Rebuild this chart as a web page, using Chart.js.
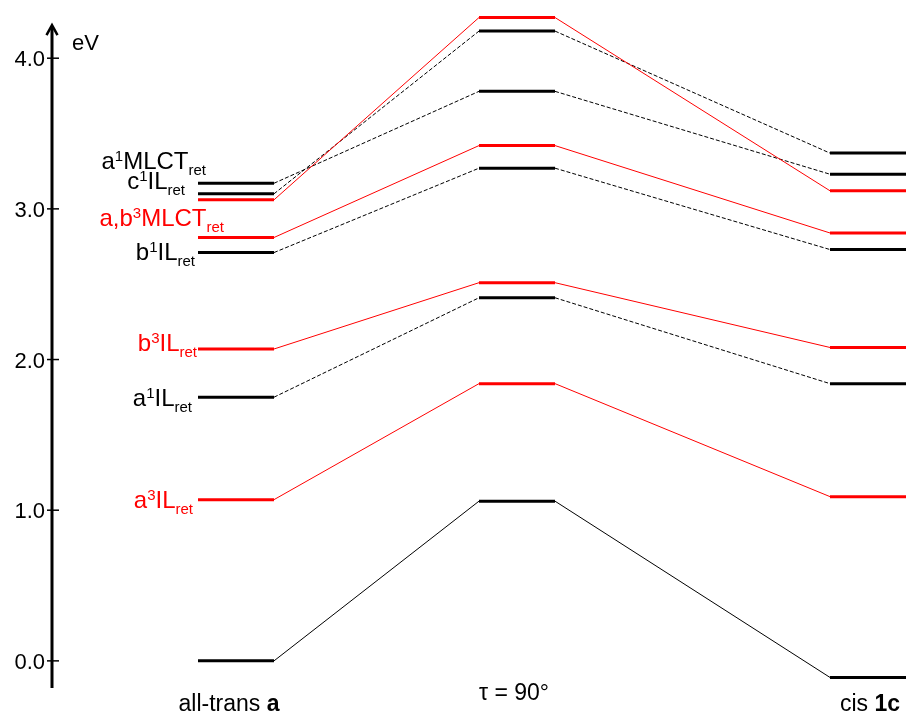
<!DOCTYPE html>
<html>
<head>
<meta charset="utf-8">
<script src="https://cdn.jsdelivr.net/npm/chart.js@4.4.0/dist/chart.umd.min.js"></script>
<style>
  html, body { margin: 0; padding: 0; background: #fff; }
</style>
</head>
<body>
<canvas id="diagram" width="908" height="715"></canvas>
<script>
// Energias dos estados (eV) nas três geometrias
const transEnergy  = [0.00, 1.07, 1.75, 2.07, 2.71, 2.81, 3.06, 3.10, 3.17];
const twistEnergy  = [1.06, 1.84, 2.41, 2.51, 3.27, 3.42, 4.27, 4.18, 3.78];
const cisEnergy    = [-0.11, 1.09, 1.84, 2.08, 2.73, 2.84, 3.12, 3.37, 3.23];
// 0 = fundamental, 1 = singleto, 3 = tripleto
const multiplicity = [0, 3, 1, 3, 1, 3, 3, 1, 1];
const stateLabels  = ['', 'a^{3}IL_{ret}', 'a^{1}IL_{ret}', 'b^{3}IL_{ret}', 'b^{1}IL_{ret}',
                      'a,b^{3}MLCT_{ret}', '', 'c^{1}IL_{ret}', 'a^{1}MLCT_{ret}'];
const energyTicks  = [0, 1, 2, 3, 4];

// Layout
const RED = '#ff0000';
const FONT = '"Liberation Sans", Arial, Helvetica, sans-serif';
const stageX = [236, 517, 868];
const levelHalf = 38;
// onde cada rótulo fica (energia do centro do texto, borda direita)
const labelPlace = [null, [1.07, 193], [1.75, 192], [2.11, 197], [2.72, 195],
                    [2.94, 224], null, [3.19, 185], [3.32, 206]];
const stageText = [
    { parts: [['all-trans ', false], ['a', true]], cx: 229, y: 711 },
    { parts: [['\u03c4 = 90\u00b0', false]], cx: 514, y: 700 },
    { parts: [['cis ', false], ['1c', true]], cx: 870, y: 711 }
];

function buildDatasets() {
    return transEnergy.map((e, i) => {
        const values = [e, twistEnergy[i], cisEnergy[i]];
        const pts = [];
        values.forEach((v, s) => {
            pts.push({ x: stageX[s] - levelHalf, y: v });
            pts.push({ x: stageX[s] + levelHalf, y: v });
        });
        const dashed = multiplicity[i] === 1;
        return {
            data: pts,
            showLine: true,
            borderColor: multiplicity[i] === 3 ? RED : '#000',
            borderWidth: 1,
            pointRadius: 0,
            pointHoverRadius: 0,
            segment: {
                // nível = traço grosso, ligação = traço fino
                borderWidth: c => c.p0DataIndex % 2 === 0 ? 3 : 1,
                borderDash: c => (dashed && c.p0DataIndex % 2 === 1) ? [4, 2] : undefined
            }
        };
    });
}

function drawRich(ctx, text, xRight, yMid, color) {
    const parts = [];
    const re = /([\^_])\{([^}]*)\}|([^\^_]+)/g;
    let m;
    while ((m = re.exec(text)) !== null) {
        if (m[3]) parts.push({ t: m[3], size: 24, dy: 0 });
        else parts.push({ t: m[2], size: 15, dy: m[1] === '^' ? -8 : 6 });
    }
    let total = 0;
    parts.forEach(p => {
        ctx.font = p.size + 'px ' + FONT;
        p.w = ctx.measureText(p.t).width;
        total += p.w;
    });
    let x = xRight - total;
    const base = yMid + 8.5;
    ctx.fillStyle = color;
    ctx.textAlign = 'left';
    ctx.textBaseline = 'alphabetic';
    parts.forEach(p => {
        ctx.font = p.size + 'px ' + FONT;
        ctx.fillText(p.t, x, base + p.dy);
        x += p.w;
    });
}

const diagramPlugin = {
    id: 'diagramExtras',
    afterDraw(chart) {
        const ctx = chart.ctx;
        const y = chart.scales.y;
        const axisX = 52;
        ctx.save();

        // eixo de energia com seta
        const yBottom = y.getPixelForValue(-0.18);
        const yTip = y.getPixelForValue(4.22);
        ctx.strokeStyle = '#000';
        ctx.lineWidth = 3;
        ctx.beginPath();
        ctx.moveTo(axisX, yBottom);
        ctx.lineTo(axisX, yTip + 1);
        ctx.stroke();
        ctx.lineWidth = 2.5;
        ctx.beginPath();
        ctx.moveTo(axisX - 5.5, yTip + 10);
        ctx.lineTo(axisX, yTip);
        ctx.lineTo(axisX + 5.5, yTip + 10);
        ctx.stroke();

        // marcas e rótulos
        ctx.lineWidth = 1.5;
        ctx.fillStyle = '#000';
        ctx.font = '22px ' + FONT;
        ctx.textAlign = 'right';
        ctx.textBaseline = 'middle';
        energyTicks.forEach(v => {
            const py = y.getPixelForValue(v);
            ctx.beginPath();
            ctx.moveTo(axisX - 5, py);
            ctx.lineTo(axisX + 7, py);
            ctx.stroke();
            ctx.fillText(v.toFixed(1), axisX - 7, py + 2);
        });
        ctx.textAlign = 'left';
        ctx.fillText('eV', 72, y.getPixelForValue(4.0) - 14);

        // rótulos dos estados
        stateLabels.forEach((txt, i) => {
            if (!txt) return;
            const [e, right] = labelPlace[i];
            drawRich(ctx, txt, right, y.getPixelForValue(e), multiplicity[i] === 3 ? RED : '#000');
        });

        // rótulos das geometrias
        ctx.textBaseline = 'alphabetic';
        ctx.fillStyle = '#000';
        stageText.forEach(st => {
            let total = 0;
            st.parts.forEach(([t, bold]) => {
                ctx.font = (bold ? 'bold ' : '') + '23px ' + FONT;
                total += ctx.measureText(t).width;
            });
            let x = st.cx - total / 2;
            st.parts.forEach(([t, bold]) => {
                ctx.font = (bold ? 'bold ' : '') + '23px ' + FONT;
                ctx.fillText(t, x, st.y);
                x += ctx.measureText(t).width;
            });
        });
        ctx.restore();
    }
};

new Chart(document.getElementById('diagram').getContext('2d'), {
    type: 'scatter',
    data: { datasets: buildDatasets() },
    options: {
        responsive: false,
        animation: false,
        events: [],
        layout: { padding: { left: 0, right: 0, top: 13, bottom: 24 } },
        plugins: { legend: { display: false }, tooltip: { enabled: false } },
        scales: {
            x: { type: 'linear', min: 0, max: 908, display: false },
            y: { type: 'linear', min: -0.2, max: 4.3, display: false }
        },
        elements: { line: { borderCapStyle: 'butt', tension: 0 } }
    },
    plugins: [diagramPlugin]
});
</script>
</body>
</html>
